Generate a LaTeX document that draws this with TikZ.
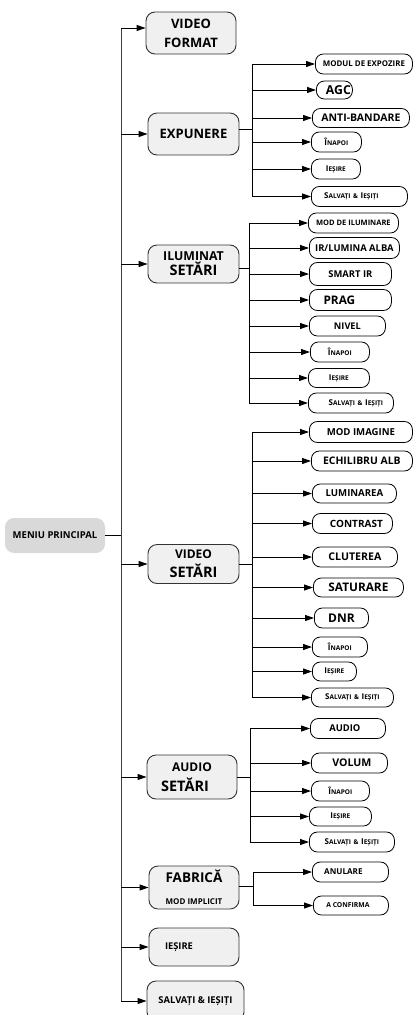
\documentclass[tikz,border=0pt]{standalone}
\usepackage{fontspec}
\setmainfont{Open Sans}
\usetikzlibrary{arrows.meta}
\newcommand\fs[1]{\fontsize{#1}{#1}\selectfont\bfseries}
\newcommand\sct[2]{{\fontsize{8}{8}\selectfont #1}{\fontsize{6.5}{7}\selectfont #2}}
\newcommand\inapoi{\sct{Î}{NAPOI}}
\newcommand\iesire{\sct{I}{EȘIRE}}
\newcommand\salv{\sct{S}{ALVAȚI} {\fontsize{6.5}{7}\selectfont\&} \sct{I}{EȘIȚI}}
\tikzset{
 mainbox/.style={draw=black!80, line width=0.9pt, fill=black!6, rounded corners=9pt, minimum width=91pt, inner sep=0pt, align=center},
 subbox/.style={draw=black, line width=0.8pt, fill=white, rounded corners=8pt, inner sep=0pt, anchor=west, align=center, font=\bfseries},
 conn/.style={line width=0.9pt, draw=black},
 arr/.style={conn, -{Triangle[length=9pt,width=6pt]}},
}
\begin{document}
\begin{tikzpicture}[x=1pt,y=-1pt]
\useasboundingbox (0,0) rectangle (413,1015);
% root
\node[fill=black!15, rounded corners=9pt, minimum width=100pt, minimum height=35pt, inner sep=0pt, font=\fs{9.5}] (menu) at (55,535.5) {MENIU PRINCIPAL};
% main boxes
\node[mainbox, minimum width=90pt, minimum height=42pt, font=\fontsize{13}{19}\selectfont\bfseries] (vf) at (191,33) {VIDEO\\FORMAT};
\node[mainbox, minimum height=42pt, font=\fs{13}] (exp) at (193.5,134) {EXPUNERE};
\node[mainbox, minimum height=38pt, font=\fontsize{12.3}{15}\selectfont\bfseries] (ilu) at (193.5,264) {ILUMINAT\\{\fontsize{14.5}{15}\selectfont SETĂRI}};
\node[mainbox, minimum height=39pt, font=\fontsize{12}{19}\selectfont\bfseries] (vid) at (193.5,564) {VIDEO\\{\fontsize{14.5}{19}\selectfont SETĂRI}};
\node[mainbox, minimum width=90pt, minimum height=44pt, font=\fontsize{12}{20}\selectfont\bfseries] (aud) at (192,777) {AUDIO\\{\fontsize{14.5}{20}\selectfont SETĂRI\hspace*{14pt}}};
\node[mainbox, minimum width=90pt, minimum height=43pt, font=\fontsize{13.5}{22}\selectfont\bfseries] (fab) at (194,887.5) {FABRICĂ\\{\fontsize{8}{22}\selectfont MOD IMPLICIT}};
\node[mainbox, minimum width=90pt, minimum height=38pt, font=\fs{9.3}] (ies) at (194,947) {IEȘIRE\hspace*{30pt}};
\node[mainbox, minimum width=97pt, minimum height=40pt, font=\fs{9.4}] (sal) at (195.5,1001) {SALVAȚI \& IEȘIȚI};
% main bus
\coordinate (btop) at (121,28);
\coordinate (bbot) at (121,1001);
\draw[conn, draw=black!75] (btop) -- (bbot);
\draw[conn] (menu.east) -- (menu.east -| btop);
\draw[arr] (btop) -- (btop -| vf.west);
\foreach \n in {exp,ilu,vid,aud,fab,ies,sal} \draw[arr] (btop |- \n.west) -- (\n.west);

% EXPUNERE group
\node[subbox, minimum width=97pt, minimum height=20pt] (e1) at (315,64) {\fontsize{7.9}{8}\selectfont MODUL DE EXPOZIRE};
\node[subbox, minimum width=36pt, minimum height=18pt] (e2) at (316,90) {\fontsize{12.3}{13}\selectfont\hspace*{8pt}AGC};
\node[subbox, minimum width=97pt, minimum height=19pt] (e3) at (312,118) {\fontsize{10.5}{11}\selectfont ANTI-BANDARE};
\node[subbox, minimum width=50pt, minimum height=20pt] (e4) at (311,142) {\inapoi};
\node[subbox, minimum width=49pt, minimum height=20pt] (e5) at (311,169) {\iesire};
\node[subbox, minimum width=96pt, minimum height=20pt] (e6) at (311,196.5) {\salv\hspace*{16pt}};
\coordinate (eb) at (252,129);
\draw[conn] (exp.east |- eb) -- (eb);
\draw[conn] (eb |- e1.west) -- (eb |- e6.west);
\foreach \i in {1,...,6} \draw[arr] (eb |- e\i.west) -- (e\i.west);

% ILUMINAT group
\node[subbox, minimum width=90pt, minimum height=20pt] (i1) at (308,223) {\fontsize{7.5}{8}\selectfont MOD DE ILUMINARE};
\node[subbox, minimum width=90pt, minimum height=21pt] (i2) at (309,248) {\fontsize{9.4}{10}\selectfont IR/LUMINA ALBA};
\node[subbox, minimum width=82pt, minimum height=23pt] (i3) at (309,274) {\fontsize{9.4}{10}\selectfont SMART IR};
\node[subbox, minimum width=82pt, minimum height=21pt] (i4) at (309,300) {\fontsize{11.8}{12}\selectfont PRAG\hspace*{22pt}};
\node[subbox, minimum width=76pt, minimum height=20pt] (i5) at (309,326) {\fontsize{9.2}{10}\selectfont NIVEL};
\node[subbox, minimum width=59pt, minimum height=20pt] (i6) at (310,352) {\inapoi};
\node[subbox, minimum width=61pt, minimum height=19pt] (i7) at (308,378) {\iesire};
\node[subbox, minimum width=85pt, minimum height=20pt] (i8) at (308,403) {\hspace*{10pt}\salv};
\coordinate (ib) at (249,268);
\draw[conn] (ilu.east |- ib) -- (ib);
\draw[conn] (ib |- i1.west) -- (ib |- i8.west);
\foreach \i in {1,...,8} \draw[arr] (ib |- i\i.west) -- (i\i.west);

% VIDEO group
\node[subbox, minimum width=103pt, minimum height=21pt] (v1) at (309,432) {\fontsize{9.6}{10}\selectfont MOD IMAGINE};
\node[subbox, minimum width=101pt, minimum height=20pt] (v2) at (311,461) {\fontsize{10.4}{11}\selectfont ECHILIBRU ALB};
\node[subbox, minimum width=84pt, minimum height=19pt] (v3) at (312,493.5) {\fontsize{9.6}{10}\selectfont LUMINAREA};
\node[subbox, minimum width=80pt, minimum height=20pt] (v4) at (312,523.5) {\fontsize{10}{11}\selectfont \hspace*{8pt}CONTRAST};
\node[subbox, minimum width=85pt, minimum height=20pt] (v5) at (312,557) {\fontsize{10.6}{11}\selectfont CLUTEREA};
\node[subbox, minimum width=90pt, minimum height=19pt] (v6) at (313,587.5) {\fontsize{11.8}{12}\selectfont SATURARE};
\node[subbox, minimum width=54pt, minimum height=20pt] (v7) at (314,618) {\fontsize{12}{12}\selectfont DNR};
\node[subbox, minimum width=55pt, minimum height=20pt] (v8) at (312,647) {\inapoi};
\node[subbox, minimum width=44pt, minimum height=19pt] (v9) at (312,671.5) {\iesire};
\node[subbox, minimum width=82pt, minimum height=19pt] (v10) at (311,697.5) {\salv};
\coordinate (vb) at (252,564);
\draw[conn] (vid.east |- vb) -- (vb);
\draw[conn] (vb |- v1.west) -- (vb |- v10.west);
\foreach \i in {1,...,10} \draw[arr] (vb |- v\i.west) -- (v\i.west);

% AUDIO group
\node[subbox, minimum width=75pt, minimum height=20pt] (a1) at (310,728.5) {\fontsize{9.4}{10}\selectfont AUDIO\hspace*{6pt}};
\node[subbox, minimum width=76pt, minimum height=20pt] (a2) at (311,763) {\fontsize{10.6}{11}\selectfont \hspace*{5pt}VOLUM};
\node[subbox, minimum width=58pt, minimum height=20pt] (a3) at (311,791) {\inapoi};
\node[subbox, minimum width=62pt, minimum height=19pt] (a4) at (309,816.5) {\iesire};
\node[subbox, minimum width=85pt, minimum height=20pt] (a5) at (309,842) {\salv};
\coordinate (ab) at (250,777);
\draw[conn] (aud.east |- ab) -- (ab);
\draw[conn] (ab |- a1.west) -- (ab |- a5.west);
\foreach \i in {1,...,5} \draw[arr] (ab |- a\i.west) -- (a\i.west);

% FABRICA group
\node[subbox, minimum width=76pt, minimum height=20pt] (f1) at (312,872) {\fontsize{8.1}{9}\selectfont ANULARE\hspace*{14pt}};
\node[subbox, minimum width=75pt, minimum height=19pt] (f2) at (313,905.5) {\fontsize{6.8}{7}\selectfont A CONFIRMA\hspace*{6pt}};
\coordinate (fb) at (253,886);
\draw[conn] (fab.east |- fb) -- (fb);
\draw[conn] (fb |- f1.west) -- (fb |- f2.west);
\foreach \i in {1,2} \draw[arr] (fb |- f\i.west) -- (f\i.west);
\end{tikzpicture}
\end{document}
